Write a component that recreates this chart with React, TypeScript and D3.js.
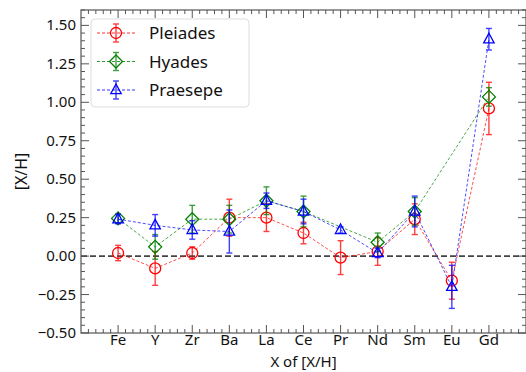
import React from "react";
import * as d3 from "d3";

const elements = ["Fe", "Y", "Zr", "Ba", "La", "Ce", "Pr", "Nd", "Sm", "Eu", "Gd"];

// [X/H] abundances; null where an element was not measured
const pleiadesVal = [0.02, -0.08, 0.02, 0.25, 0.25, 0.15, -0.01, 0.03, 0.24, -0.16, 0.96];
const pleiadesErr = [0.05, 0.11, 0.04, 0.12, 0.09, 0.07, 0.11, 0.09, 0.1, 0.12, 0.17];
const hyadesVal = [0.245, 0.06, 0.24, 0.24, 0.36, 0.29, null, 0.09, 0.29, null, 1.035];
const hyadesErr = [0.03, 0.08, 0.09, 0.09, 0.09, 0.1, null, 0.06, 0.09, null, 0.06];
const praesepeVal = [0.24, 0.2, 0.17, 0.16, 0.36, 0.29, 0.17, 0.02, 0.29, -0.2, 1.41];
const praesepeErr = [0.03, 0.07, 0.06, 0.14, 0.05, 0.08, 0.02, 0.03, 0.1, 0.14, 0.07];

const yTicks = [-0.5, -0.25, 0, 0.25, 0.5, 0.75, 1.0, 1.25, 1.5];

type Series = { name: string; color: string; marker: "circle" | "diamond" | "triangle"; vals: (number | null)[]; errs: (number | null)[] };

const series: Series[] = [
  { name: "Pleiades", color: "#ff0000", marker: "circle", vals: pleiadesVal, errs: pleiadesErr },
  { name: "Hyades", color: "#008000", marker: "diamond", vals: hyadesVal, errs: hyadesErr },
  { name: "Praesepe", color: "#0000ff", marker: "triangle", vals: praesepeVal, errs: praesepeErr },
];

const W = 526;
const H = 372;
const left = 81;
const right = 526;
const top = 10;
const bottom = 333;
const font = "'Noto Sans', sans-serif";
const axisColor = "#555";

const x = d3.scaleLinear().domain([-1, 11]).range([left, right]);
const y = d3.scaleLinear().domain([-0.5, 1.6]).range([bottom, top]);

function Marker({ kind, cx, cy, color }: { kind: string; cx: number; cy: number; color: string }) {
  if (kind === "circle") {
    return <circle cx={cx} cy={cy} r={5.5} fill="none" stroke={color} strokeWidth={1.3} />;
  }
  if (kind === "diamond") {
    const r = 6.5;
    return (
      <path
        d={`M${cx},${cy - r}L${cx + r},${cy}L${cx},${cy + r}L${cx - r},${cy}Z`}
        fill="none"
        stroke={color}
        strokeWidth={1.3}
      />
    );
  }
  const r = 6;
  return (
    <path
      d={`M${cx},${cy - r}L${cx + r * 0.87},${cy + r * 0.6}L${cx - r * 0.87},${cy + r * 0.6}Z`}
      fill="none"
      stroke={color}
      strokeWidth={1.3}
    />
  );
}

export default function App() {
  const xMinor = d3.range(-1, 11.001, 0.2).filter((v) => Math.abs(v - Math.round(v)) > 1e-6);
  const yMinor = d3.range(-0.5, 1.6001, 0.05).filter((v) => Math.abs(v / 0.25 - Math.round(v / 0.25)) > 1e-6);
  const xMajor = d3.range(0, 11);

  const line = d3
    .line<[number, number]>()
    .x((d) => x(d[0]))
    .y((d) => y(d[1]));

  return (
    <svg width={W} height={H} style={{ position: "absolute", left: 0, top: 0 }} fontFamily={font}>
      <rect x={0} y={0} width={W} height={H} fill="white" />

      {/* zero reference line */}
      <line x1={left} x2={right} y1={y(0)} y2={y(0)} stroke="#444" strokeWidth={1.8} strokeDasharray="6,3" />

      {series.map((s) => {
        const pts = s.vals
          .map((v, i) => (v === null ? null : ([i, v] as [number, number])))
          .filter((p): p is [number, number] => p !== null);
        return (
          <g key={s.name}>
            <path d={line(pts) ?? ""} fill="none" stroke={s.color} strokeWidth={1} strokeDasharray="3,2" opacity={0.7} />
            {s.vals.map((v, i) => {
              if (v === null) return null;
              const e = s.errs[i] ?? 0;
              const cx = x(i);
              return (
                <g key={i} opacity={0.75}>
                  <line x1={cx} x2={cx} y1={y(v - e)} y2={y(v + e)} stroke={s.color} strokeWidth={1.4} />
                  <line x1={cx - 3} x2={cx + 3} y1={y(v - e)} y2={y(v - e)} stroke={s.color} strokeWidth={1.4} />
                  <line x1={cx - 3} x2={cx + 3} y1={y(v + e)} y2={y(v + e)} stroke={s.color} strokeWidth={1.4} />
                </g>
              );
            })}
            {s.vals.map((v, i) =>
              v === null ? null : <Marker key={i} kind={s.marker} cx={x(i)} cy={y(v)} color={s.color} />
            )}
          </g>
        );
      })}

      {/* frame and ticks */}
      <rect x={left} y={top} width={right - left} height={bottom - top} fill="none" stroke={axisColor} strokeWidth={1.2} />
      {xMajor.map((v) => (
        <g key={"xm" + v}>
          <line x1={x(v)} x2={x(v)} y1={bottom} y2={bottom - 8} stroke={axisColor} />
          <line x1={x(v)} x2={x(v)} y1={top} y2={top + 8} stroke={axisColor} />
          <text x={x(v)} y={345} textAnchor="middle" fontSize={15} fill="#111">
            {elements[v]}
          </text>
        </g>
      ))}
      {xMinor.map((v, i) => (
        <g key={"xn" + i}>
          <line x1={x(v)} x2={x(v)} y1={bottom} y2={bottom - 4} stroke={axisColor} />
          <line x1={x(v)} x2={x(v)} y1={top} y2={top + 4} stroke={axisColor} />
        </g>
      ))}
      {yTicks.map((v) => (
        <g key={"ym" + v}>
          <line x1={left} x2={left + 8} y1={y(v)} y2={y(v)} stroke={axisColor} />
          <line x1={right} x2={right - 8} y1={y(v)} y2={y(v)} stroke={axisColor} />
          <text x={left - 5} y={y(v) + 5} textAnchor="end" fontSize={15} fill="#111">
            {d3.format(".2f")(v).replace("-", "\u2212")}
          </text>
        </g>
      ))}
      {yMinor.map((v, i) => (
        <g key={"yn" + i}>
          <line x1={left} x2={left + 4} y1={y(v)} y2={y(v)} stroke={axisColor} />
          <line x1={right} x2={right - 4} y1={y(v)} y2={y(v)} stroke={axisColor} />
        </g>
      ))}

      <text x={(left + right) / 2} y={367} textAnchor="middle" fontSize={15} fill="#111">
        X of [X/H]
      </text>
      <text transform={`translate(21,${(top + bottom) / 2}) rotate(-90)`} textAnchor="middle" fontSize={16} fill="#111" dy="0.35em">
        [X/H]
      </text>

      {/* legend */}
      <g>
        <rect x={91} y={19} width={158} height={88} rx={4} fill="white" fillOpacity={0.85} stroke="#ddd" />
        {series.map((s, i) => {
          const ly = 33 + i * 28.5;
          return (
            <g key={s.name}>
              <line x1={97} x2={135} y1={ly} y2={ly} stroke={s.color} strokeDasharray="3,2" opacity={0.8} />
              <g opacity={0.75}>
                <line x1={116} x2={116} y1={ly - 9} y2={ly + 9} stroke={s.color} strokeWidth={1.4} />
                <line x1={113} x2={119} y1={ly - 9} y2={ly - 9} stroke={s.color} strokeWidth={1.4} />
                <line x1={113} x2={119} y1={ly + 9} y2={ly + 9} stroke={s.color} strokeWidth={1.4} />
              </g>
              <Marker kind={s.marker} cx={116} cy={ly} color={s.color} />
              <text x={149} y={ly + 6} fontSize={17} fill="#111">
                {s.name}
              </text>
            </g>
          );
        })}
      </g>
    </svg>
  );
}
